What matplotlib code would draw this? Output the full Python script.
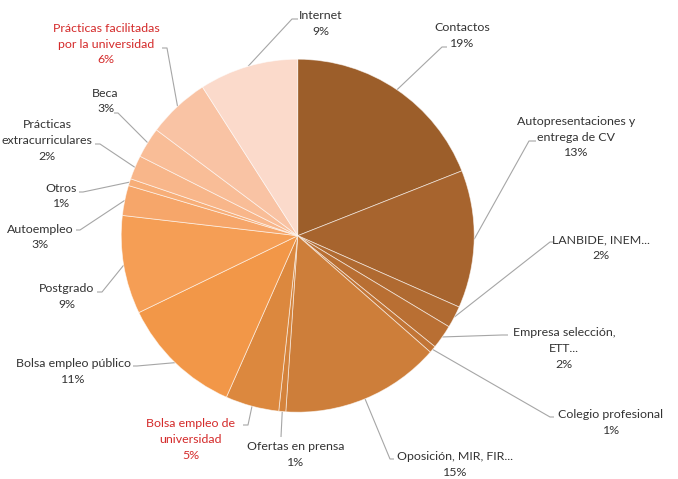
import numpy as np
import matplotlib
matplotlib.use("Agg")
import matplotlib.pyplot as plt

# ---- data ----
categories = [
    "Contactos", "Autopresentaciones y\nentrega de CV", "LANBIDE, INEM...",
    "Empresa selección,\nETT...", "Colegio profesional", "Oposición, MIR, FIR...",
    "Ofertas en prensa", "Bolsa empleo de\nuniversidad", "Bolsa empleo público",
    "Postgrado", "Autoempleo", "Otros", "Prácticas\nextracurriculares", "Beca",
    "Prácticas facilitadas\npor la universidad", "Internet",
]
values = [19.0, 12.6, 2.0, 2.2, 0.64, 14.6, 0.64, 4.9, 11.2, 9.0, 2.75, 0.64, 2.2, 2.8, 5.7, 9.06]
pct_labels = ["19%", "13%", "2%", "2%", "1%", "15%", "1%", "5%", "11%", "9%", "3%", "1%", "2%", "3%", "6%", "9%"]
highlight = [False, False, False, False, False, False, False, True, False, False, False, False, False, False, True, False]

colors = ["#9C5E2A", "#A7642E", "#B06A31", "#B96F33", "#C27536", "#CD7E3A",
          "#D4833C", "#DC883E", "#F29748", "#F59E55", "#F6A66A", "#F7AE78",
          "#F8B68A", "#F9BD97", "#F9C3A4", "#FBDACB"]

# ---- layout (image pixel coords, y from top) ----
W, H = 678, 479
cx, cy, R = 297.7, 235.7, 176.5
text_pos = [(462, 35.5), (576, 137), (601, 247.5), (564, 348.5), (611, 422.5), (455, 464.5),
            (296, 454.5), (191, 439.5), (73, 371.5), (67, 296.5), (40, 237), (61, 196),
            (47, 140.5), (105.5, 101), (106, 44), (321, 23.5)]
elbows = [(442, 47, 447), (529, 141, 536), (550, 242, 554), (502, 335, 508), (550, 417, 554),
          (390, 459, 394), (281, 437, 281), (248, 425, 243), (137, 366, 133), (102, 292, 97),
          (80, 230, 76), (83, 192, 79), (100, 144, 95), (118, 113, 114), (167, 48, 162),
          (292, 19, 298)]

fig = plt.figure(figsize=(W / 100, H / 100), dpi=100)
ax = fig.add_axes([0, 0, 1, 1])

wedges, _ = ax.pie(values, colors=colors, startangle=90, counterclock=False,
                   center=(cx, H - cy), radius=R,
                   wedgeprops=dict(edgecolor=(1, 1, 1, 0.6), linewidth=0.6))
ax.set_xlim(0, W)
ax.set_ylim(0, H)
ax.set_aspect("equal")
ax.axis("off")

font = ["Lato", "DejaVu Sans"]
for i, w in enumerate(wedges):
    ang = np.deg2rad((w.theta1 + w.theta2) / 2)
    px = cx + R * np.cos(ang)
    py = (H - cy) + R * np.sin(ang)
    ex, ey, sx = elbows[i]
    ax.plot([px, ex, sx], [py, H - ey, H - ey], color="#A6A6A6", lw=0.8,
            solid_capstyle="butt", zorder=0.5)
    tx, ty = text_pos[i]
    col = "#D42A2A" if highlight[i] else "#333333"
    ax.text(tx, H - ty, categories[i] + "\n" + pct_labels[i], ha="center", va="center",
            fontsize=8.9, family=font, color=col, linespacing=1.52)

fig.savefig("out.png", dpi=100)
